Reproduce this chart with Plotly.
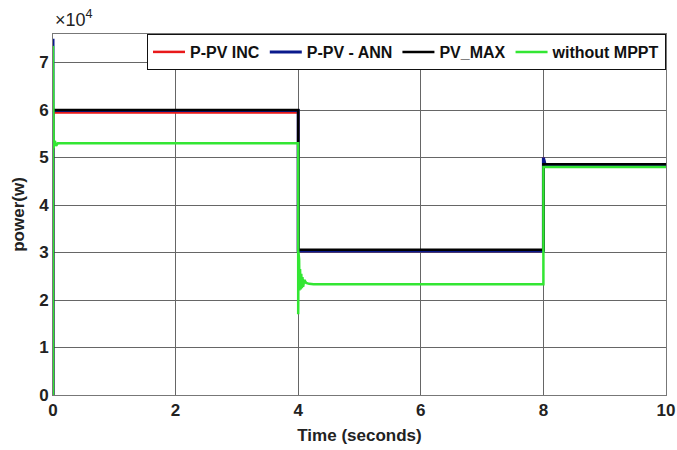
import plotly.graph_objects as go

# ---- data (power in W, time in s) ----
t_inc = [0.0, 0.0, 0.02, 4.0, 4.0, 8.0, 8.0, 8.02, 10.0]
p_inc = [0, 59500, 59500, 59500, 30300, 30300, 50000, 48400, 48400]

t_ann = [0.0, 0.0, 0.0, 4.0, 4.0, 8.0, 8.0, 8.03, 10.0]
p_ann = [0, 75000, 59900, 59900, 30300, 30300, 50000, 48400, 48400]

t_max = [0.0, 0.0, 4.0, 4.0, 4.0, 8.0, 8.0, 10.0]
p_max = [0, 60000, 60000, 53000, 30600, 30600, 48600, 48600]

t_wo = [0.0, 0.0, 0.01, 0.03, 0.05, 0.08, 4.0, 4.0, 4.005, 4.01, 4.015, 4.02, 4.03,
        4.04, 4.05, 4.06, 4.07, 4.08, 4.10, 4.13, 4.18, 4.25, 8.0, 8.0, 10.0]
p_wo = [0, 73500, 52000, 53500, 52500, 53000, 53000, 17000, 30000, 21500, 28500, 22000,
        26500, 22200, 25500, 22500, 24800, 22800, 24200, 23600, 23400, 23300, 23300,
        48000, 48000]

y_ticks = [0, 10000, 20000, 30000, 40000, 50000, 60000, 70000]
y_labels = ["0", "1", "2", "3", "4", "5", "6", "7"]
x_ticks = [0, 2, 4, 6, 8, 10]

series = [
    ("P-PV INC", t_inc, p_inc, "#e8191a", 2.5),
    ("P-PV - ANN", t_ann, p_ann, "#0a1a8c", 3),
    ("PV_MAX", t_max, p_max, "#000000", 2.5),
    ("without MPPT", t_wo, p_wo, "#33e633", 2.5),
]

fig = go.Figure()
for name, tx, py, col, w in series:
    fig.add_trace(go.Scatter(x=tx, y=py, mode="lines", name=name,
                             line=dict(color=col, width=w)))

font = "Arial, Liberation Sans, sans-serif"
fig.update_layout(
    width=677, height=450,
    margin=dict(l=53, r=11, t=34, b=55, autoexpand=False),
    paper_bgcolor="white", plot_bgcolor="white",
    font=dict(family=font, color="#222222"),
    showlegend=True,
    legend=dict(orientation="h", x=1.0, xanchor="right", y=1.0, yanchor="top",
                bgcolor="white", bordercolor="#111111", borderwidth=1,
                font=dict(family=font, size=16, color="#111111", weight="bold"),
                itemwidth=32, tracegroupgap=0),
    xaxis=dict(range=[0, 10], tickvals=x_ticks, showgrid=True, gridcolor="#666666",
               gridwidth=1, zeroline=False, showline=True, linecolor="#777777",
               mirror=True, ticks="", automargin=False,
               tickfont=dict(size=17, weight="bold", color="#222"),
               title=dict(text="Time (seconds)", font=dict(size=17, weight="bold", color="#222"),
                          standoff=9)),
    yaxis=dict(range=[0, 76000], tickvals=y_ticks, ticktext=y_labels, showgrid=True,
               gridcolor="#666666", gridwidth=1, zeroline=False, showline=True,
               linecolor="#777777", mirror=True, ticks="", automargin=False,
               tickfont=dict(size=17, weight="bold", color="#222"),
               title=dict(text="power(w)", font=dict(size=17, weight="bold", color="#222"),
                          standoff=10)),
    annotations=[dict(text="×10<sup>4</sup>", xref="paper", yref="paper", x=0.0, y=1.0,
                      xanchor="left", yanchor="bottom", yshift=2, showarrow=False,
                      font=dict(family=font, size=18, color="#222"))],
)

fig.write_html("out.html")
